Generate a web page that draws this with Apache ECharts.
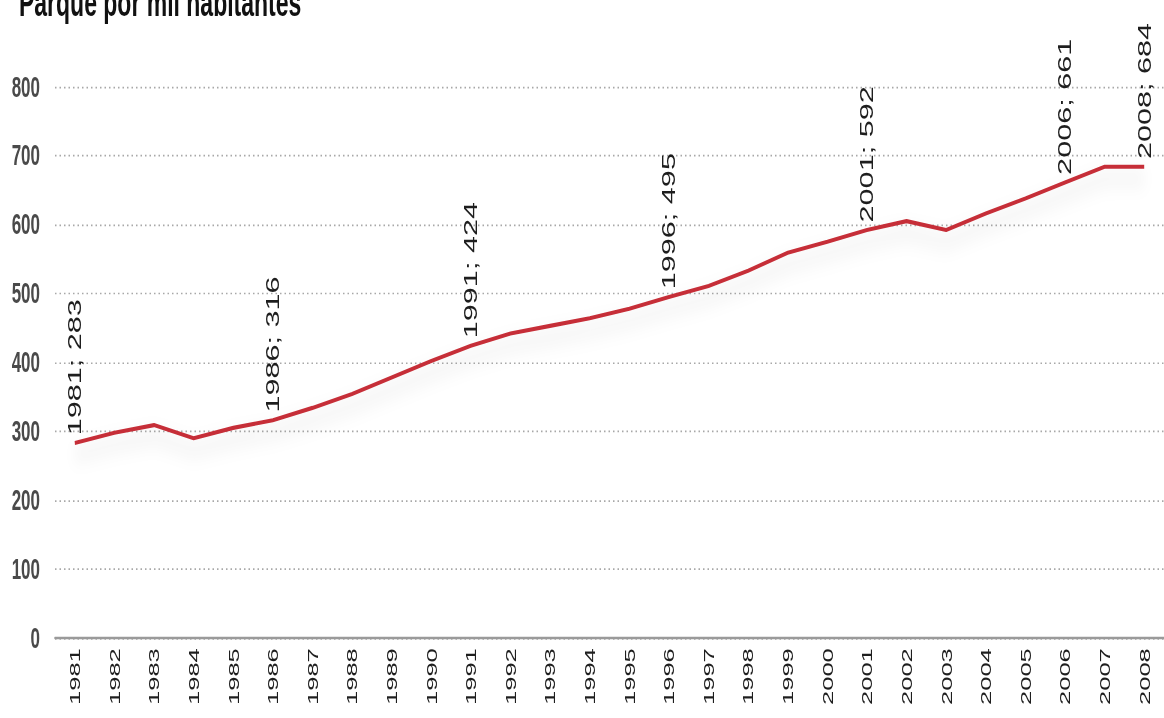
<!DOCTYPE html>
<html>
<head>
<meta charset="utf-8">
<script src="https://cdn.jsdelivr.net/npm/echarts@6/dist/echarts.min.js"></script>
<style>
  html, body { margin: 0; padding: 0; background: #fff; }
  body { width: 1164px; height: 718px; }
  /* The chart is laid out in a short box and stretched vertically to the full page height */
  #chart {
    width: 1164px;
    height: 422px;
    transform: scaleY(1.7014);
    transform-origin: 0 0;
  }
</style>
</head>
<body>
<div id="chart"></div>
<script>
// Vehicle fleet per thousand inhabitants, 1981-2008
const years = ['1981','1982','1983','1984','1985','1986','1987','1988','1989','1990',
  '1991','1992','1993','1994','1995','1996','1997','1998','1999','2000',
  '2001','2002','2003','2004','2005','2006','2007','2008'];
const fleetPerThousand = [283, 298, 309, 290, 305, 316, 334, 354, 378, 402,
  424, 442, 453, 464, 478, 495, 511, 533, 559, 575,
  592, 605, 592, 616, 638, 661, 684, 684];
// Years whose value is written next to the line
const annotatedYears = ['1981', '1986', '1991', '1996', '2001', '2006', '2008'];
const yTicks = [0, 100, 200, 300, 400, 500, 600, 700, 800];
const titleText = 'Parque por mil habitantes';

const chart = echarts.init(document.getElementById('chart'), null, { renderer: 'svg' });

const seriesData = years.map((y, i) => ({
  value: fleetPerThousand[i],
  label: { show: annotatedYears.includes(y) }
}));

chart.setOption({
  animation: false,
  backgroundColor: '#ffffff',
  title: {
    text: titleText,
    left: 14,
    top: -15,
    textStyle: {
      fontFamily: 'Liberation Sans, Arial, sans-serif',
      fontSize: 23,
      fontWeight: 'bold',
      color: '#111'
    }
  },
  grid: { left: 55, top: 51, width: 1120, bottom: 47, containLabel: false },
  xAxis: {
    type: 'category',
    data: years,
    boundaryGap: true,
    axisLine: { show: true, lineStyle: { color: '#9a9a9a', width: 1.5 } },
    axisTick: { show: false },
    axisLabel: {
      rotate: 90,
      interval: 0,
      margin: 6,
      fontFamily: 'Liberation Sans, Arial, sans-serif',
      fontSize: 15,
      color: '#1e1e1e'
    },
    splitLine: { show: false }
  },
  yAxis: {
    type: 'value',
    min: yTicks[0],
    max: yTicks[yTicks.length - 1],
    interval: 100,
    axisLine: { show: false },
    axisTick: { show: false },
    axisLabel: {
      margin: 15,
      fontFamily: 'Liberation Sans, Arial, sans-serif',
      fontSize: 17,
      fontWeight: 'bold',
      color: '#4a4a4a'
    },
    splitLine: {
      show: true,
      lineStyle: { color: '#a8a8a8', width: 1, type: [1.5, 3] }
    }
  },
  series: [{
    type: 'line',
    data: seriesData,
    showSymbol: true,
    symbol: 'circle',
    symbolSize: 1,
    itemStyle: { color: 'rgba(198,47,56,0)' },
    z: 5,
    lineStyle: {
      color: '#c62f38',
      width: 2.4,
      shadowColor: 'rgba(0,0,0,0.16)',
      shadowBlur: 12,
      shadowOffsetY: 7
    },
    label: {
      position: 'top',
      distance: 4,
      rotate: 90,
      align: 'left',
      verticalAlign: 'middle',
      fontFamily: 'Liberation Sans, Arial, sans-serif',
      fontSize: 18,
      color: '#1e1e1e',
      formatter: p => p.name + '; ' + p.value
    },
    labelLayout: { hideOverlap: false }
  }]
});
</script>
</body>
</html>
